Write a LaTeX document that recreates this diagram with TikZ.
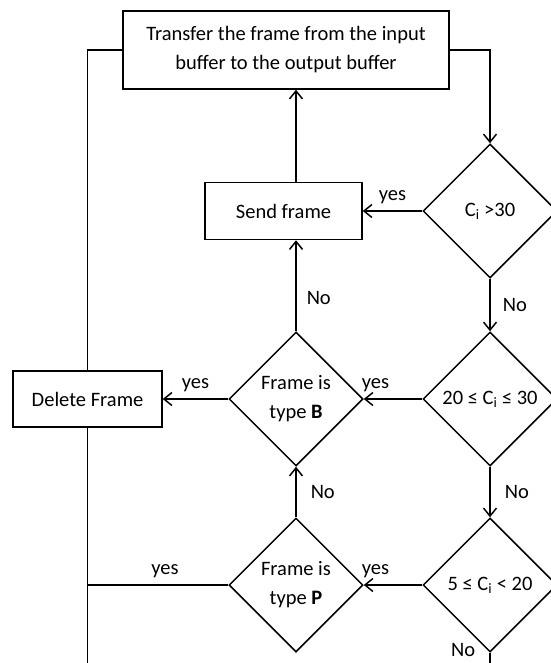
\documentclass[tikz,border=0pt]{standalone}
\usepackage{fontspec}
\setmainfont{Carlito}
\usetikzlibrary{shapes.geometric,arrows.meta}

\begin{document}
\begin{tikzpicture}[x=1pt,y=-1pt,line width=1.5pt,
	font=\fontsize{20.5}{29}\selectfont,
	box/.style={draw,rectangle,align=center,inner sep=2pt},
	test/.style={draw,diamond,align=center,minimum width=134pt,minimum height=134pt,inner sep=0pt},
	arr/.style={-{Straight Barb[length=8pt,width=13pt]}},
	lbl/.style={inner sep=2pt}]% Draw the flow chart
	\useasboundingbox (0,0) rectangle (550,663);
	\coordinate (bottom) at (0,670);
	
	\node[box,minimum width=326pt,minimum height=78pt] (transfer) at (286,50) {Transfer the frame from the input\\buffer to the output buffer};
	\node[box,minimum width=157pt,minimum height=57pt] (send) at (283.5,211) {Send frame};
	\node[box,minimum width=149pt,minimum height=56pt] (delete) at (87.5,399) {Delete Frame};
	
	\node[test] (c1) at (490,211) {C\textsubscript{i} >30};
	\node[test] (c2) at (490,399) {20 ≤ C\textsubscript{i} ≤ 30};
	\node[test] (c3) at (490,585) {5 ≤ C\textsubscript{i} < 20};
	\node[test] (typeb) at (296,399) {Frame is\\type \textbf{B}};
	\node[test] (typep) at (296,585) {Frame is\\type \textbf{P}};
	
	% right column
	\draw[arr] (transfer.east) -| (c1.north);
	\draw[arr] (c1.west) -- node[lbl,above=4pt] (y1) {yes} (send.east);
	\draw[arr] (c1.south) -- node[lbl,right=10pt] (n1) {No} (c2.north);
	\draw[arr] (c2.south) -- node[lbl,right=12pt] (n2) {No} (c3.north);
	\draw (c3.south) -- node[lbl,left=12pt,pos=0,yshift=3pt] (n5) {No} (c3.south |- bottom);
	
	% middle column
	\draw[arr] (c2.west) -- node[lbl,above=4pt,pos=0.8] (y2) {yes} (typeb.east);
	\draw[arr] (c3.west) -- node[lbl,above=4pt,pos=0.8] (y4) {yes} (typep.east);
	\draw[arr] (typep.north) -- node[lbl,right=12pt] (n3) {No} (typeb.south);
	\draw[arr] (typeb.north) -- node[lbl,right=8pt,pos=0.37] (n4) {No} (typeb.north |- send.south);
	\draw[arr] (send.north -| typeb.north) -- (typeb.north |- transfer.south);
	
	% left column
	\draw[arr] (typeb.west) -- node[lbl,above=4pt] (y3) {yes} (delete.east);
	\draw (delete.north) |- (transfer.west);
	\draw (delete.south) -- (delete.south |- bottom);
	\draw (typep.west) -- node[lbl,above=4pt,pos=0.45] (y5) {yes} (typep.west -| delete.south);
\end{tikzpicture}
\end{document}
